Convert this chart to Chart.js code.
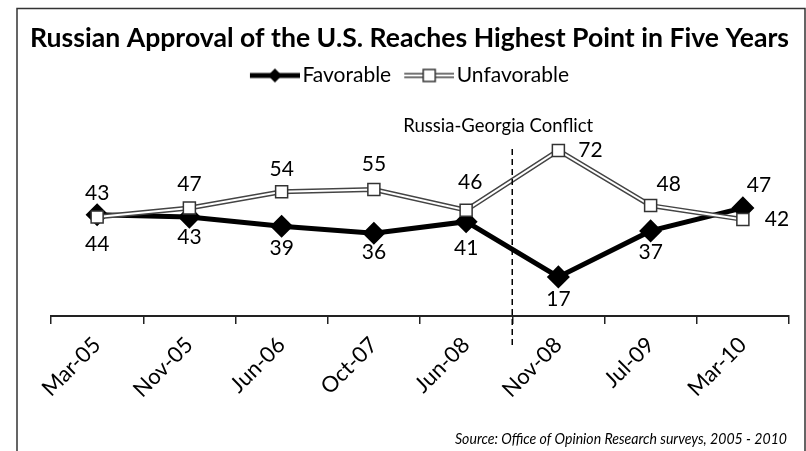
<!DOCTYPE html>
<html>
<head>
<meta charset="utf-8">
<script src="https://cdn.jsdelivr.net/npm/chart.js@4/dist/chart.umd.min.js"></script>
<style>
  html, body { margin: 0; padding: 0; background: #fff; }
  #wrap { width: 806px; height: 451px; }
</style>
</head>
<body>
<div id="wrap"><canvas id="chart"></canvas></div>
<script>
const labels = ['Mar-05', 'Nov-05', 'Jun-06', 'Oct-07', 'Jun-08', 'Nov-08', 'Jul-09', 'Mar-10'];
const favorable = [44, 43, 39, 36, 41, 17, 37, 47];
const unfavorable = [43, 47, 54, 55, 46, 72, 48, 42];
const conflictAfter = 'Jun-08';

// where each value label sits relative to its point (dx, dy)
const favLabelOffset = [[0, 29], [0, 20], [0, 22], [0, 19], [0, 27], [0, 22], [0, 21], [16, -23]];
const unfavLabelOffset = [[0, -24], [0, -24], [0, -23], [0, -25], [4, -28], [32, 0], [18, -21], [34, 0]];

const FONT = "Lato, 'Open Sans', sans-serif";

// legend swatch: line + marker, shifted right so it sits close to the text
function legendIcon(kind) {
  const c = document.createElement('canvas');
  c.width = 58; c.height = 16;
  const g = c.getContext('2d');
  g.beginPath(); g.moveTo(8, 8); g.lineTo(58, 8);
  if (kind === 'fav') {
    g.strokeStyle = '#000'; g.lineWidth = 5; g.stroke();
    g.fillStyle = '#000';
    g.beginPath(); g.moveTo(33, 1); g.lineTo(40, 8); g.lineTo(33, 15); g.lineTo(26, 8); g.closePath(); g.fill();
  } else {
    g.strokeStyle = '#444'; g.lineWidth = 5; g.stroke();
    g.strokeStyle = '#fff'; g.lineWidth = 2; g.stroke();
    g.fillStyle = '#fff'; g.strokeStyle = '#333'; g.lineWidth = 1.5;
    g.fillRect(27, 2, 12, 12); g.strokeRect(27, 2, 12, 12);
  }
  return c;
}

const legendGap = {
  id: 'legendGap',
  beforeInit(chart) {
    const fit = chart.legend.fit;
    chart.legend.fit = function () {
      fit.call(this);
      this.height += 36;
    };
  }
};

const decor = {
  id: 'decor',
  afterDraw(chart) {
    const ctx = chart.ctx;
    const x = chart.scales.x, area = chart.chartArea;
    ctx.save();
    // frame
    ctx.strokeStyle = '#333'; ctx.lineWidth = 1.5;
    ctx.beginPath();
    ctx.moveTo(17, 451); ctx.lineTo(17, 8.5); ctx.lineTo(805, 8.5); ctx.lineTo(805, 451);
    ctx.stroke();
    // conflict marker
    const i = labels.indexOf(conflictAfter);
    const cx = (x.getPixelForValue(i) + x.getPixelForValue(i + 1)) / 2;
    ctx.strokeStyle = '#000'; ctx.lineWidth = 1.5; ctx.setLineDash([6, 4]);
    ctx.beginPath(); ctx.moveTo(cx, area.top + 17); ctx.lineTo(cx, area.bottom + 31); ctx.stroke();
    ctx.setLineDash([]);
    ctx.fillStyle = '#000'; ctx.textAlign = 'center'; ctx.textBaseline = 'middle';
    ctx.font = '18.5px ' + FONT;
    ctx.fillText('Russia-Georgia Conflict', cx - 14, area.top - 6);
    // source
    ctx.font = 'italic 16px ' + FONT;
    ctx.textAlign = 'right';
    ctx.fillText('Source: Office of Opinion Research surveys, 2005 - 2010', 787, 439, 332);
    ctx.restore();
  },
  afterDatasetsDraw(chart) {
    const ctx = chart.ctx;
    ctx.save();
    ctx.font = '21px ' + FONT; ctx.fillStyle = '#000';
    ctx.textAlign = 'center'; ctx.textBaseline = 'middle';
    [[0, favorable, favLabelOffset], [2, unfavorable, unfavLabelOffset]].forEach(([di, vals, offs]) => {
      chart.getDatasetMeta(di).data.forEach((pt, k) => {
        ctx.fillText(String(vals[k]), pt.x + offs[k][0], pt.y + offs[k][1]);
      });
    });
    ctx.restore();
  }
};

const favIcon = legendIcon('fav');
const unfavIcon = legendIcon('unfav');

new Chart(document.getElementById('chart'), {
  type: 'line',
  data: {
    labels: labels,
    datasets: [{
      label: 'Favorable',
      data: favorable,
      borderColor: '#000',
      borderWidth: 5,
      pointStyle: 'rectRot',
      pointRadius: 8,
      pointBackgroundColor: '#000',
      pointBorderColor: '#000',
      tension: 0,
      order: 2
    }, {
      label: 'Unfavorable',
      data: unfavorable,
      borderColor: '#444',
      borderWidth: 5,
      pointRadius: 0,
      tension: 0,
      order: 1
    }, {
      label: 'Unfavorable inner',
      data: unfavorable,
      borderColor: '#fff',
      borderWidth: 2,
      pointStyle: 'rect',
      pointRadius: 8.5,
      pointBackgroundColor: '#fff',
      pointBorderColor: '#333',
      pointBorderWidth: 1.5,
      tension: 0,
      order: 0
    }]
  },
  options: {
    responsive: true,
    maintainAspectRatio: false,
    animation: false,
    layout: { padding: { left: 30, right: 17, top: 0, bottom: 35 } },
    plugins: {
      title: {
        display: true,
        text: 'Russian Approval of the U.S. Reaches Highest Point in Five Years',
        color: '#000',
        font: { family: FONT, size: 27, weight: 'bold', lineHeight: 1 },
        padding: { top: 25, bottom: 0 }
      },
      legend: {
        labels: {
          usePointStyle: true,
          pointStyleWidth: 42,
          color: '#000',
          font: { family: FONT, size: 21 },
          padding: 13,
          generateLabels: () => [
            { text: 'Favorable', pointStyle: favIcon, lineWidth: 0, strokeStyle: 'rgba(0,0,0,0)', fillStyle: 'rgba(0,0,0,0)', datasetIndex: 0 },
            { text: 'Unfavorable', pointStyle: unfavIcon, lineWidth: 0, strokeStyle: 'rgba(0,0,0,0)', fillStyle: 'rgba(0,0,0,0)', datasetIndex: 2 }
          ]
        }
      },
      tooltip: { enabled: false }
    },
    scales: {
      x: {
        offset: true,
        grid: { offset: true, drawOnChartArea: false, drawTicks: true, tickLength: 8, color: '#222', lineWidth: 1.5 },
        border: { color: '#222', width: 2 },
        ticks: { color: '#000', font: { family: FONT, size: 22 }, minRotation: 45, maxRotation: 45, padding: 8 },
        afterFit(scale) { scale.height = 100; }
      },
      y: {
        min: 0,
        max: 80,
        grid: { display: false },
        border: { display: false },
        ticks: { display: false },
        afterFit(scale) { scale.width = 21; }
      }
    }
  },
  plugins: [legendGap, decor]
});
</script>
</body>
</html>
